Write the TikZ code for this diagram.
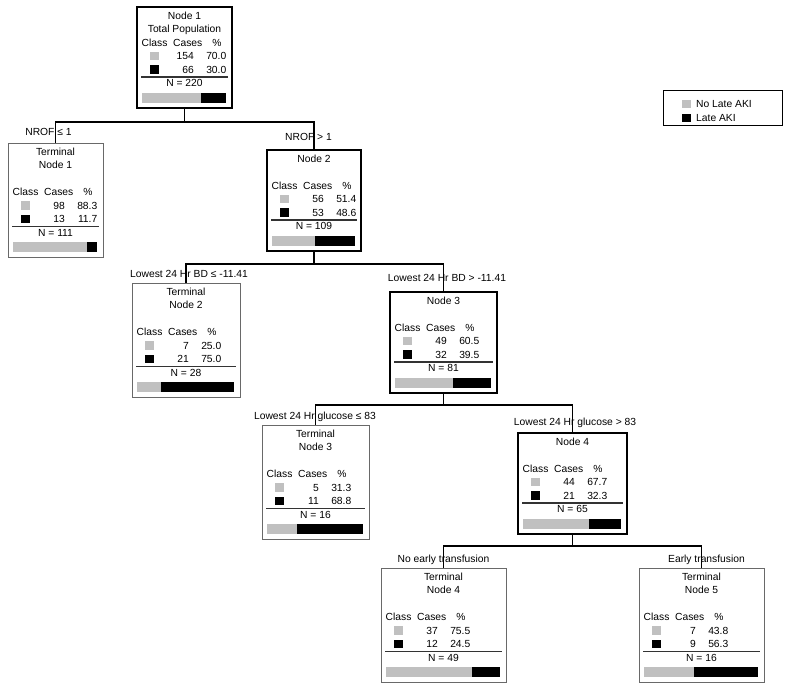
\documentclass[tikz,border=0pt]{standalone}
\usepackage{fontspec}
\setmainfont{Liberation Sans}
\usetikzlibrary{calc}
\definecolor{barGray}{RGB}{192,192,192}
\definecolor{frameGray}{RGB}{105,105,105}

\newcommand{\classtab}[8]{%
  \path (#1.north west) ++(4.5,#2) node[txt,anchor=west] (#1-class) {Class} ;
  \path (#1.north west) ++(65.5,#2) node[txt,anchor=east] (#1-cases) {Cases} ;
  \path (#1.north west) ++(80,#2) node[txt] (#1-pc) {\%} ;
  \fill[barGray] (#1.north west) ++(13,#2+9) rectangle ++(8.5,8.5) ;
  \fill[black] (#1.north west) ++(13,#2+22.5) rectangle ++(8.5,8.5) ;
  \path (#1.north west) ++(57,#2+13.5) node[txt,anchor=east] (#1-c1) {#3} ;
  \path (#1.north west) ++(89.5,#2+13.5) node[txt,anchor=east] (#1-p1) {#4} ;
  \path (#1.north west) ++(57,#2+27) node[txt,anchor=east] (#1-c2) {#5} ;
  \path (#1.north west) ++(89.5,#2+27) node[txt,anchor=east] (#1-p2) {#6} ;
  \draw[black!80,line width=1.2pt] ($(#1.north west)+(4,#2+34.5)$) -- ($(#1.north east)+(-4,#2+34.5)$) ;
  \path (#1.north) ++(0,#2+40.5) node[txt] (#1-n) {N = #7} ;
  \coordinate (#1-bl) at ($(#1.north west)+(5,#2+50)$) ;
  \coordinate (#1-br) at ($(#1.north east)+(-6,#2+60)$) ;
  \coordinate (#1-bm) at ($(#1-bl)!#8!(#1-br)$) ;
  \fill[barGray] (#1-bl) rectangle (#1-bm |- #1-br) ;
  \fill[black] (#1-bm |- #1-bl) rectangle (#1-br) ;
}

\begin{document}
\begin{tikzpicture}[x=1pt,y=-1pt,
    font=\fontsize{10.3}{12}\selectfont,
    txt/.style={inner sep=0pt,text height=7.4pt,text depth=0pt},
    decision/.style={draw,line width=2pt,anchor=north west,inner sep=0pt,outer sep=0pt},
    terminal/.style={draw=frameGray,line width=1pt,anchor=north west,inner sep=0pt,outer sep=0pt},
    link/.style={line width=1.5pt}]
  \useasboundingbox (0,0) rectangle (800,691) ;

  \node[decision,minimum width=95,minimum height=101] (n1) at (137,7) {} ;
  \node[terminal,minimum width=95,minimum height=114.5] (t1) at (8,143) {} ;
  \node[decision,minimum width=94,minimum height=101] (n2) at (267,150) {} ;
  \node[terminal,minimum width=108,minimum height=114.5] (t2) at (132,283) {} ;
  \node[decision,minimum width=107,minimum height=101] (n3) at (390,292) {} ;
  \node[terminal,minimum width=107,minimum height=114.5] (t3) at (262,425) {} ;
  \node[decision,minimum width=109,minimum height=101] (n4) at (518,433) {} ;
  \node[terminal,minimum width=125,minimum height=114.5] (t4) at (381,568) {} ;
  \node[terminal,minimum width=125,minimum height=114.5] (t5) at (639,568) {} ;

  \path (n1.north) ++(0,8.5) node[txt] (n1-h1) {Node 1} ;
  \path (n1.north) ++(0,22) node[txt] (n1-h2) {Total Population} ;
  \path (t1.north) ++(0,9) node[txt] (t1-h1) {Terminal} ;
  \path (t1.north) ++(0,22) node[txt] (t1-h2) {Node 1} ;
  \path (n2.north) ++(0,9) node[txt] (n2-h1) {Node 2} ;
  \path (t2.north) ++(0,9) node[txt] (t2-h1) {Terminal} ;
  \path (t2.north) ++(0,22) node[txt] (t2-h2) {Node 2} ;
  \path (n3.north) ++(0,9) node[txt] (n3-h1) {Node 3} ;
  \path (t3.north) ++(0,9) node[txt] (t3-h1) {Terminal} ;
  \path (t3.north) ++(0,22) node[txt] (t3-h2) {Node 3} ;
  \path (n4.north) ++(0,9) node[txt] (n4-h1) {Node 4} ;
  \path (t4.north) ++(0,9) node[txt] (t4-h1) {Terminal} ;
  \path (t4.north) ++(0,22) node[txt] (t4-h2) {Node 4} ;
  \path (t5.north) ++(0,9) node[txt] (t5-h1) {Terminal} ;
  \path (t5.north) ++(0,22) node[txt] (t5-h2) {Node 5} ;

  \classtab{n1}{35.5}{154}{70.0}{66}{30.0}{220}{0.700}
  \classtab{t1}{49}{98}{88.3}{13}{11.7}{111}{0.883}
  \classtab{n2}{35.5}{56}{51.4}{53}{48.6}{109}{0.514}
  \classtab{t2}{49}{7}{25.0}{21}{75.0}{28}{0.250}
  \classtab{n3}{35.5}{49}{60.5}{32}{39.5}{81}{0.605}
  \classtab{t3}{49}{5}{31.3}{11}{68.8}{16}{0.313}
  \classtab{n4}{35.5}{44}{67.7}{21}{32.3}{65}{0.677}
  \classtab{t4}{49}{37}{75.5}{12}{24.5}{49}{0.755}
  \classtab{t5}{49}{7}{43.8}{9}{56.3}{16}{0.438}

  \draw (48.5,132) node[txt] (l1) {NROF ≤ 1} ;
  \draw (308.5,137) node[txt] (l2) {NROF > 1} ;
  \draw (189,274) node[txt] (l3) {Lowest 24 Hr BD ≤ -11.41} ;
  \draw (447,278) node[txt] (l4) {Lowest 24 Hr BD > -11.41} ;
  \draw (315,416) node[txt] (l5) {Lowest 24 Hr glucose ≤ 83} ;
  \draw (575,422) node[txt] (l6) {Lowest 24 Hr glucose > 83} ;
  \draw (443.5,559) node[txt] (l7) {No early transfusion} ;
  \draw (706.5,559) node[txt] (l8) {Early transfusion} ;

  \coordinate (s1) at ($(n1.south)+(0,14)$) ;
  \coordinate (s2) at ($(n2.south)+(0,13)$) ;
  \coordinate (s3) at ($(n3.south)+(0,12)$) ;
  \coordinate (s4) at ($(n4.south)+(0,12)$) ;
  \draw[link] (n1.south) -- (s1) ;
  \draw[link] (t1.north) |- (s1) -| (n2.north) ;
  \draw[link] (n2.south) -- (s2) ;
  \draw[link] (t2.north) |- (s2) -| (n3.north) ;
  \draw[link] (n3.south) -- (s3) ;
  \draw[link] (t3.north) |- (s3) -| (n4.north) ;
  \draw[link] (n4.south) -- (s4) ;
  \draw[link] (t4.north) |- (s4) -| (t5.north) ;

  \node[draw,line width=1pt,anchor=north west,inner sep=0pt,outer sep=0pt,minimum width=119,minimum height=35] (legend) at (663,90) {} ;
  \fill[barGray] (682,99.5) rectangle (690.5,108) ;
  \fill[black] (682,113.5) rectangle (690.5,122) ;
  \draw (696,104) node[txt,anchor=west] (lg1) {No Late AKI} ;
  \draw (696,118) node[txt,anchor=west] (lg2) {Late AKI} ;
\end{tikzpicture}
\end{document}
